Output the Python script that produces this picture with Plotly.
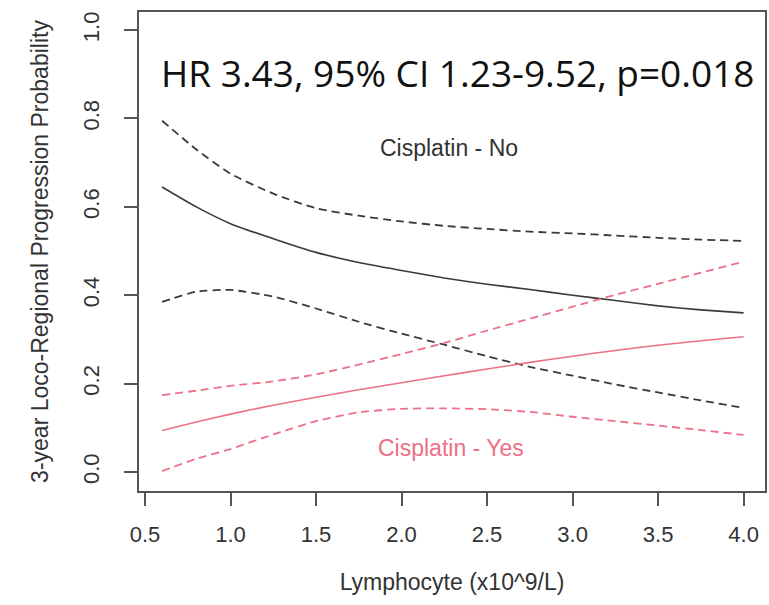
import plotly.graph_objects as go

# Lymphocyte count grid (x10^9/L)
lymphocyte = [0.6, 0.8, 1.0, 1.25, 1.5, 1.75, 2.0, 2.25, 2.5, 2.75, 3.0, 3.25, 3.5, 3.75, 4.0]

# Cisplatin - No: estimate with 95% band
no_est = [0.645, 0.600, 0.562, 0.528, 0.497, 0.474, 0.456, 0.439, 0.425, 0.413, 0.400, 0.388, 0.376, 0.367, 0.360]
no_upper = [0.795, 0.730, 0.675, 0.630, 0.597, 0.580, 0.567, 0.557, 0.550, 0.544, 0.540, 0.535, 0.530, 0.526, 0.523]
no_lower = [0.385, 0.408, 0.412, 0.397, 0.370, 0.340, 0.313, 0.288, 0.262, 0.238, 0.218, 0.198, 0.180, 0.162, 0.145]

# Cisplatin - Yes: estimate with 95% band
yes_est = [0.094, 0.113, 0.131, 0.151, 0.169, 0.186, 0.202, 0.218, 0.233, 0.248, 0.262, 0.275, 0.287, 0.297, 0.306]
yes_upper = [0.174, 0.184, 0.195, 0.205, 0.221, 0.243, 0.267, 0.292, 0.320, 0.347, 0.374, 0.401, 0.426, 0.451, 0.476]
yes_lower = [0.002, 0.030, 0.052, 0.085, 0.115, 0.135, 0.143, 0.144, 0.142, 0.136, 0.125, 0.115, 0.105, 0.095, 0.084]

x_ticks = [0.5, 1.0, 1.5, 2.0, 2.5, 3.0, 3.5, 4.0]
y_ticks = [0.0, 0.2, 0.4, 0.6, 0.8, 1.0]

hr_text = "HR 3.43, 95% CI 1.23-9.52, p=0.018"
label_no = "Cisplatin - No"
label_yes = "Cisplatin - Yes"

DARK = "#3a3a3a"
PINK = "#ec7087"
TEXT = "#333333"
FONT = "Liberation Sans, Arial, sans-serif"

fig = go.Figure()

def curve(y, color, dashed, width):
    fig.add_trace(go.Scatter(
        x=lymphocyte, y=y, mode="lines",
        line=dict(color=color, width=width, shape="spline", smoothing=0.6,
                  dash="8px,5px" if dashed else "solid"),
        showlegend=False, hoverinfo="skip",
    ))

curve(no_upper, DARK, True, 1.8)
curve(no_est, DARK, False, 1.6)
curve(no_lower, DARK, True, 1.8)
curve(yes_upper, PINK, True, 1.8)
curve(yes_est, PINK, False, 1.6)
curve(yes_lower, PINK, True, 1.8)

fig.add_annotation(x=2.33, y=0.903, text=hr_text, showarrow=False,
                   font=dict(family="Open Sans", size=37, color="#111111"),
                   xanchor="center", yanchor="middle")
fig.add_annotation(x=2.28, y=0.733, text=label_no, showarrow=False,
                   font=dict(family=FONT, size=23, color=TEXT),
                   xanchor="center", yanchor="middle")
fig.add_annotation(x=2.29, y=0.054, text=label_yes, showarrow=False,
                   font=dict(family=FONT, size=23, color=PINK),
                   xanchor="center", yanchor="middle")

axis_common = dict(
    showline=True, mirror=True, linecolor="#555555", linewidth=1.6,
    ticks="outside", ticklen=13, tickwidth=1.6, tickcolor="#555555",
    showgrid=False, zeroline=False,
    tickfont=dict(family=FONT, size=22, color=TEXT),
)

fig.update_xaxes(
    range=[0.465, 4.125], tickvals=x_ticks,
    ticktext=[f"{v:.1f}" for v in x_ticks],
    ticklabelstandoff=10,
    title=dict(text="Lymphocyte (x10^9/L)", standoff=28,
               font=dict(family=FONT, size=23, color=TEXT)),
    **axis_common,
)
fig.update_yaxes(
    range=[-0.043, 1.041], tickvals=y_ticks,
    ticktext=[f"{v:.1f}" for v in y_ticks],
    tickangle=-90, ticklabelstandoff=16,
    title=dict(text="3-year Loco-Regional Progression Probability", standoff=24,
               font=dict(family=FONT, size=23, color=TEXT)),
    **axis_common,
)

fig.update_layout(
    width=769, height=605,
    margin=dict(l=139, r=2, t=12, b=114),
    paper_bgcolor="white", plot_bgcolor="white",
)

fig.write_html("out.html")
